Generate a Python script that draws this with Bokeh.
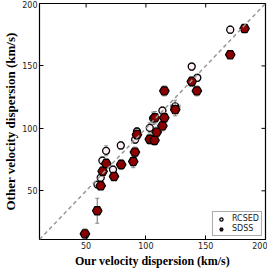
from bokeh.plotting import figure
from bokeh.models import Range1d, FixedTicker, Slope, Legend, LegendItem
from bokeh.embed import file_html
from bokeh.resources import INLINE

rcsed_x = [59.5, 62.2, 63.6, 66.7, 72.5, 79.0, 91.0, 92.5, 103.2, 106.0, 113.8, 124.5, 138.3, 143.0, 170.5]
rcsed_y = [55.0, 60.5, 74.2, 82.0, 67.0, 86.3, 91.0, 97.5, 100.4, 108.0, 114.2, 117.5, 149.5, 140.5, 179.0]
rcsed_yerr = [2.5, 3.0, 3.0, 4.0, 3.0, 3.0, 3.0, 3.0, 4.0, 5.0, 3.0, 5.0, 3.0, 3.0, 3.0]
rcsed_xerr = [0, 0, 0, 0, 0, 0, 0, 0, 0, 0, 0, 4.0, 0, 0, 0]

sdss_x = [49.0, 59.3, 62.2, 63.8, 66.8, 73.3, 79.3, 89.4, 90.8, 92.5, 103.2, 107.2, 109.0, 107.5, 113.8, 115.4, 115.4, 124.5, 138.3, 142.6, 170.5, 182.5]
sdss_y = [15.5, 34.0, 54.0, 65.6, 71.8, 61.5, 71.0, 73.5, 81.0, 95.0, 91.3, 90.5, 97.0, 108.5, 102.0, 108.5, 130.0, 115.0, 137.5, 130.0, 159.0, 180.0]
sdss_yerr = [4.0, 10.0, 3.0, 4.0, 4.0, 3.0, 4.0, 5.0, 4.0, 4.0, 4.0, 4.0, 4.0, 5.0, 4.0, 4.0, 4.0, 5.0, 4.0, 4.0, 2.0, 3.0]

ticks = [50, 100, 150, 200]
axis_min, axis_max = 11, 200

p = figure(frame_width=226, frame_height=236, output_backend="svg", toolbar_location=None,
           x_range=Range1d(axis_min, axis_max), y_range=Range1d(axis_min, axis_max),
           min_border_left=0, min_border_right=2, min_border_top=3, min_border_bottom=0)
p.xgrid.visible = False
p.ygrid.visible = False
p.outline_line_color = "#000000"
p.outline_line_width = 1.2
p.background_fill_color = "white"

def style_axis(ax):
    ax.ticker = FixedTicker(ticks=ticks)
    ax.major_tick_in = 4
    ax.major_tick_out = 0
    ax.minor_tick_line_color = None
    ax.axis_line_color = "#000000"
    ax.major_tick_line_color = "#000000"
    ax.major_label_text_font = "DejaVu Sans"
    ax.major_label_text_font_size = "8px"
    ax.major_label_text_color = "#222222"
    ax.major_label_standoff = 2
    ax.axis_label_text_font = "Liberation Serif"
    ax.axis_label_text_font_style = "bold"
    ax.axis_label_text_font_size = "12px"
    ax.axis_label_text_color = "#000000"
    ax.axis_label_standoff = 2

p.xaxis.axis_label = "Our velocity dispersion (km/s)"
p.yaxis.axis_label = "Other velocity dispersion (km/s)"
style_axis(p.xaxis[0])
style_axis(p.yaxis[0])
p.yaxis.axis_label_text_font_size = "13px"
p.yaxis.axis_label_standoff = 1

# mirrored inward ticks on the top and right frame edges
p.scatter(ticks, [axis_max] * len(ticks), marker="dash", angle=1.5708, size=8,
          line_color="#000000", line_width=1)
p.scatter([axis_max] * len(ticks), ticks, marker="dash", size=8,
          line_color="#000000", line_width=1)

p.add_layout(Slope(gradient=1, y_intercept=0, line_color="#999999", line_width=1.5, line_dash="4 3"))

err_color = "#888888"

def errbars(xs, ys, yerr, xerr=None):
    y0 = [y - e for y, e in zip(ys, yerr)]
    y1 = [y + e for y, e in zip(ys, yerr)]
    p.segment(x0=xs, y0=y0, x1=xs, y1=y1, line_color=err_color, line_width=1.2)
    p.scatter(xs + xs, y0 + y1, marker="dash", size=4, line_color=err_color, line_width=1)
    if xerr is not None:
        xx = [x for x, e in zip(xs, xerr) if e > 0]
        yy = [y for y, e in zip(ys, xerr) if e > 0]
        ee = [e for e in xerr if e > 0]
        xl = [x - e for x, e in zip(xx, ee)]
        xr = [x + e for x, e in zip(xx, ee)]
        p.segment(x0=xl, y0=yy, x1=xr, y1=yy, line_color=err_color, line_width=1.2)
        p.scatter(xl + xr, yy + yy, marker="dash", angle=1.5708, size=4, line_color=err_color, line_width=1)

errbars(rcsed_x, rcsed_y, rcsed_yerr, rcsed_xerr)
r1 = p.scatter(rcsed_x, rcsed_y, marker="circle", size=7, fill_color="#fff0f3",
               line_color="#000000", line_width=1.3)
errbars(sdss_x, sdss_y, sdss_yerr)
r2 = p.scatter(sdss_x, sdss_y, marker="hex", size=9.5, fill_color="#8b0000",
               line_color="#000000", line_width=1.2)

legend = Legend(items=[LegendItem(label="RCSED", renderers=[r1]),
                       LegendItem(label="SDSS", renderers=[r2])],
                location="bottom_right")
legend.label_text_font = "DejaVu Sans"
legend.label_text_font_size = "8px"
legend.label_text_color = "#222222"
legend.label_height = 7
legend.glyph_height = 8
legend.glyph_width = 12
legend.label_standoff = 5
legend.spacing = 1
legend.padding = 2
legend.margin = 3
legend.border_line_color = "#555555"
legend.border_line_width = 1.5
p.add_layout(legend)

open("out.html", "w").write(file_html(p, INLINE))
